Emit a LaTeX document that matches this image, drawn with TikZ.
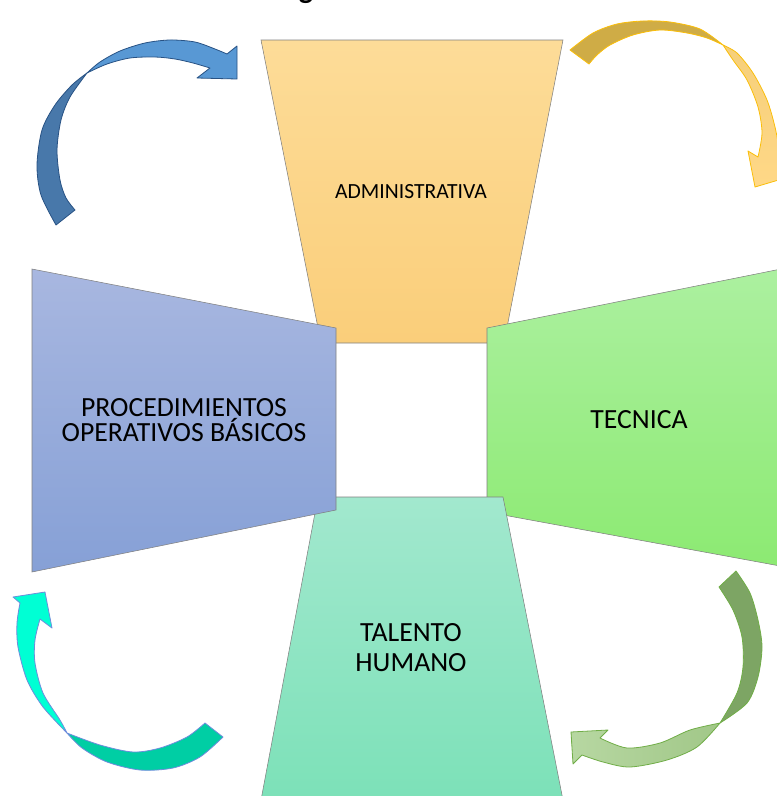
\documentclass[tikz,border=0pt]{standalone}
\usepackage{fontspec}
\setmainfont{Carlito}
\usepackage{tikz}

\definecolor{admtop}{RGB}{253,220,152}
\definecolor{admbot}{RGB}{250,206,122}
\definecolor{poptop}{RGB}{168,183,224}
\definecolor{popbot}{RGB}{134,160,214}
\definecolor{tectop}{RGB}{172,240,160}
\definecolor{tecbot}{RGB}{140,234,114}
\definecolor{thtop}{RGB}{162,232,206}
\definecolor{thbot}{RGB}{124,225,184}
\definecolor{bluedark}{RGB}{72,120,170}
\definecolor{bluelight}{RGB}{88,152,212}
\definecolor{blueline}{RGB}{40,82,132}
\definecolor{golddark}{RGB}{207,172,70}
\definecolor{goldlight}{RGB}{255,216,135}
\definecolor{goldline}{RGB}{250,190,10}
\definecolor{greendark}{RGB}{125,165,100}
\definecolor{greenlight}{RGB}{170,208,145}
\definecolor{greenline}{RGB}{112,173,71}
\definecolor{tealdark}{RGB}{0,206,164}
\definecolor{teallight}{RGB}{0,255,212}
\definecolor{tealline}{RGB}{110,140,220}

\begin{document}
\begin{tikzpicture}[x=0.75pt, y=-0.75pt,
  panel/.style={draw=black!50, line width=0.4pt},
  lbl/.style={font=\fontsize{20.8}{18.75}\selectfont, align=center, inner sep=0pt},
  curvearrow/.style={line width=0.6pt, line join=round}]

\useasboundingbox (0,0) rectangle (777,796);

% Title, cut off at the top edge
\node[anchor=base, inner sep=0pt, font=\fontsize{22.5}{27}\selectfont\bfseries] (ttl) at (306,-1.5) {g};

% Four panels round the empty square
\shadedraw[panel, top color=admtop, bottom color=admbot] (261,40) -- (563,40) -- (504,343) -- (321,343) -- cycle;
\shadedraw[panel, top color=tectop, bottom color=tecbot] (487,328) -- (791,267) -- (791,568) -- (487,512) -- cycle;
\shadedraw[panel, top color=thtop, bottom color=thbot] (318,497) -- (503,497) -- (563,800) -- (261,800) -- cycle;
\shadedraw[panel, top color=poptop, bottom color=popbot] (32,269) -- (336,328) -- (336,510) -- (32,572) -- cycle;

% Labels
\node[lbl, font=\fontsize{16.2}{18}\selectfont, anchor=base] (adm) at (411,198) {ADMINISTRATIVA};
\node[lbl, anchor=base] (tec) at (639,428) {TECNICA};
\node[lbl] (pob) at (184,420.5) {PROCEDIMIENTOS\\OPERATIVOS BÁSICOS};
\node[lbl, font=\fontsize{20.8}{22.5}\selectfont] (th) at (411,647.5) {TALENTO\\HUMANO};

% Top left arrow - blue
\filldraw[curvearrow, draw=blueline, fill=bluedark] plot[smooth] coordinates {(56,225) (41,195) (37,165) (42,130) (55,105) (72,85) (87,73)}
  -- plot[smooth] coordinates {(87,73) (70,97) (61,120) (57,150) (60,180) (66,198) (75,210)} -- cycle;
\filldraw[curvearrow, draw=blueline, fill=bluelight] plot[smooth] coordinates {(87,73) (100,62) (120,51) (145,43) (170,40) (195,42) (215,49) (227,54)}
  -- (237,46) -- (237,79) -- (197,78)
  -- plot[smooth] coordinates {(210,68) (193,63) (175,59) (155,57) (130,58) (107,64) (87,73)} -- cycle;

% Top right arrow - gold
\filldraw[curvearrow, draw=goldline, fill=golddark] plot[smooth] coordinates {(570,50) (593,33) (617,24) (643,21) (670,22) (700,29) (723,45)}
  -- plot[smooth] coordinates {(723,45) (707,38) (687,33) (660,30) (633,35) (610,45) (597,55) (589,64)} -- cycle;
\shadedraw[curvearrow, draw=goldline, top color=goldlight!80!golddark, bottom color=goldlight] plot[smooth] coordinates {(723,45) (737,53) (753,73) (767,100) (775,127) (779,150) (779,168)}
  -- (792,176) -- (755,187) -- (748,151)
  -- plot[smooth] coordinates {(758,157) (762,133) (758,107) (747,80) (733,60) (723,45)} -- cycle;

% Bottom right arrow - green
\filldraw[curvearrow, draw=greenline, fill=greendark] plot[smooth] coordinates {(736,571) (750,593) (758,620) (762,647) (758,677) (747,703) (720,723)}
  -- plot[smooth] coordinates {(720,723) (737,693) (743,667) (742,637) (733,610) (719,587)} -- cycle;
\shadedraw[curvearrow, draw=greenline, left color=greenlight!85!white, right color=greenlight!80!greendark] plot[smooth] coordinates {(720,723) (697,747) (667,760) (630,767) (603,762) (582,755)}
  -- (573,764) -- (571,732) -- (608,730)
  -- plot[smooth] coordinates {(600,738) (627,748) (660,743) (690,730) (720,723)} -- cycle;

% Bottom left arrow - teal
\filldraw[curvearrow, draw=tealline, fill=tealdark] plot[smooth] coordinates {(223,737) (200,757) (173,768) (140,770) (107,762) (82,748) (67,733)}
  -- plot[smooth] coordinates {(67,733) (100,745) (133,752) (160,748) (187,737) (205,723)} -- cycle;
\filldraw[curvearrow, draw=tealline, fill=teallight] plot[smooth] coordinates {(67,733) (43,707) (27,680) (18,647) (17,623) (20,603)}
  -- (13,597) -- (45,592) -- (52,628)
  -- plot[smooth] coordinates {(40,619) (35,640) (35,663) (43,693) (60,720) (67,733)} -- cycle;

\end{tikzpicture}
\end{document}
